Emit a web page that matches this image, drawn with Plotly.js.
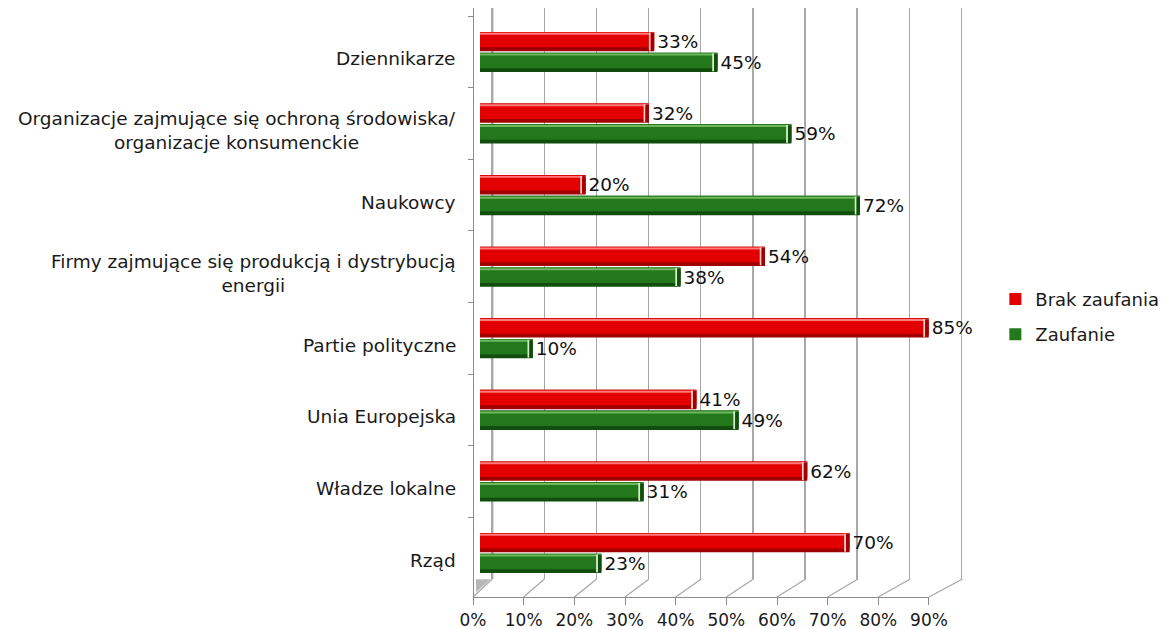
<!DOCTYPE html>
<html><head><meta charset="utf-8">
<script src="https://cdn.plot.ly/plotly-3.0.1.min.js"></script>
<style>html,body{margin:0;padding:0;background:#fff}#c{width:1176px;height:629px}</style>
</head><body><div id="c"></div>
<script>
const categories = ['Dziennikarze', 'Organizacje zajmujące się ochroną środowiska/<br>organizacje konsumenckie', 'Naukowcy', 'Firmy zajmujące się produkcją i dystrybucją<br>energii', 'Partie polityczne', 'Unia Europejska', 'Władze lokalne', 'Rząd'];
const brakZaufania = [33, 32, 20, 54, 85, 41, 62, 70];
const zaufanie = [45, 59, 72, 38, 10, 49, 31, 23];
const seriesNames = ['Brak zaufania', 'Zaufanie'];
const tickVals = [0, 10, 20, 30, 40, 50, 60, 70, 80, 90];

const FONT = 'DejaVu Sans, Verdana, sans-serif';
const dGrid = [0.0392, 0.999];   // back wall
const dBars = [0.0143, 0.9837];  // bars (middle depth)
const dFront = [0, 0.9306];      // front axis
const yGridBottom = 0.0306;

function cyl(values, name, off, cols, group) {
  const w = 0.27;
  const common = {type:'bar', orientation:'h', y:categories, xaxis:'x2', yaxis:'y2', legendgroup:group, hoverinfo:'skip'};
  return [
    Object.assign({}, common, {x:values, offset:off, width:w, marker:{color:cols[0]}, showlegend:false,
      name:name, text:values.map(v => v + '%'), textposition:'outside', cliponaxis:false, constraintext:'none',
      textfont:{family:FONT, size:18.5, color:'#111'}}),
    Object.assign({}, common, {x:values, offset:off, width:w*0.8, marker:{color:cols[1]}, name:name, showlegend:true}),
    Object.assign({}, common, {x:values, offset:off + 0.012, width:w*0.1, marker:{color:cols[2]}, showlegend:false}),
    Object.assign({}, common, {x:values.map(() => 0.35), base:values.map(v => v - 1.0), offset:off + 0.01,
      width:w - 0.02, marker:{color:cols[3]}, showlegend:false}),
    Object.assign({}, common, {x:values.map(() => 0.65), base:values.map(v => v - 0.65), offset:off + 0.015,
      width:w - 0.03, marker:{color:cols[0]}, showlegend:false})
  ];
}

const traces = [
  {type:'scatter', mode:'none', x:[10], y:[0.5], xaxis:'x', yaxis:'y', showlegend:false, hoverinfo:'skip'},
  {type:'scatter', mode:'none', x:[0], y:[categories[0]], xaxis:'x3', yaxis:'y2', showlegend:false, hoverinfo:'skip'},
  ...cyl(brakZaufania, seriesNames[0], -0.28, ['#a00000', '#e20000', '#ff7a7a', '#ffd0d0'], 'a'),
  ...cyl(zaufanie, seriesNames[1], 0.01, ['#114d0d', '#22781b', '#6fb85f', '#d8f0c8'], 'b')
];

const backX = v => dGrid[0] + v / 90 * (dGrid[1] - dGrid[0]);
const shapes = tickVals.map(v => ({
  type:'line', xref:'paper', yref:'paper', layer:'below',
  x0: dFront[0] + v / 90 * (dFront[1] - dFront[0]), y0: 0,
  x1: backX(v), y1: yGridBottom,
  line:{color:'#a8a8a8', width:1.3}
}));
// back-wall edge at 0%
shapes.push({type:'line', xref:'paper', yref:'paper', layer:'between', x0:backX(tickVals[0]) + 0.001, x1:backX(tickVals[0]) + 0.001,
  y0:yGridBottom, y1:1, line:{color:'#a8a8a8', width:1.4}});
shapes.push({type:'path', xref:'paper', yref:'paper', layer:'below',
  path:'M 0.006 0.008 L 0.006 0.03 L 0.036 0.03 Z', fillcolor:'#b8b8b8', line:{width:0}});

const annotations = categories.map(c => ({
  xref:'paper', yref:'y2', x:-0.0306, y:c, xanchor:'right', yanchor:'middle',
  align:'center', showarrow:false, text:c, yshift:-7,
  font:{family:FONT, size:18.5, color:'#1a1a1a'}
}));

const layout = {
  width:1176, height:629,
  margin:{l:473, r:213, t:8, b:32},
  paper_bgcolor:'#ffffff', plot_bgcolor:'rgba(0,0,0,0)',
  barmode:'overlay', showlegend:true,
  font:{family:FONT, color:'#111'},
  xaxis:{domain:dGrid, anchor:'y', range:[0, 90.2], tickvals:tickVals, showgrid:true,
    gridcolor:'#a8a8a8', gridwidth:1.4, zeroline:false,
    showticklabels:false, ticks:'', showline:false, fixedrange:true},
  yaxis:{domain:[yGridBottom,1], anchor:'x', range:[0,1], showgrid:false, zeroline:false,
    showticklabels:false, ticks:'', showline:true, linecolor:'#a8a8a8', linewidth:1.4, fixedrange:true},
  xaxis2:{domain:dBars, anchor:'y2', range:[0,90], showgrid:false, zeroline:false,
    showticklabels:false, ticks:'', showline:false, fixedrange:true},
  yaxis2:{domain:[0,1], anchor:'free', position:0, type:'category', range:[7.614,-0.614],
    showgrid:false, zeroline:false, showticklabels:false, showline:true, linecolor:'#8c8c8c', linewidth:1.3,
    ticks:'outside', tickson:'boundaries', ticklen:5, tickcolor:'#8c8c8c', fixedrange:true},
  xaxis3:{domain:dFront, anchor:'y2', range:[0,90], tickvals:tickVals, ticktext:tickVals.map(v => v + '%'),
    showgrid:false, zeroline:false, showline:true, linecolor:'#8c8c8c', linewidth:1.3,
    ticks:'outside', ticklen:7, tickcolor:'#8c8c8c',
    tickfont:{family:FONT, size:17, color:'#1a1a1a'}, fixedrange:true},
  legend:{x:1.066, y:0.537, xanchor:'left', yanchor:'top', traceorder:'grouped', tracegroupgap:9,
    font:{family:FONT, size:18, color:'#1a1a1a'}, bgcolor:'rgba(0,0,0,0)', itemwidth:30},
  shapes: shapes,
  annotations: annotations
};

Plotly.newPlot('c', traces, layout, {displayModeBar:false, staticPlot:true});
</script></body></html>
